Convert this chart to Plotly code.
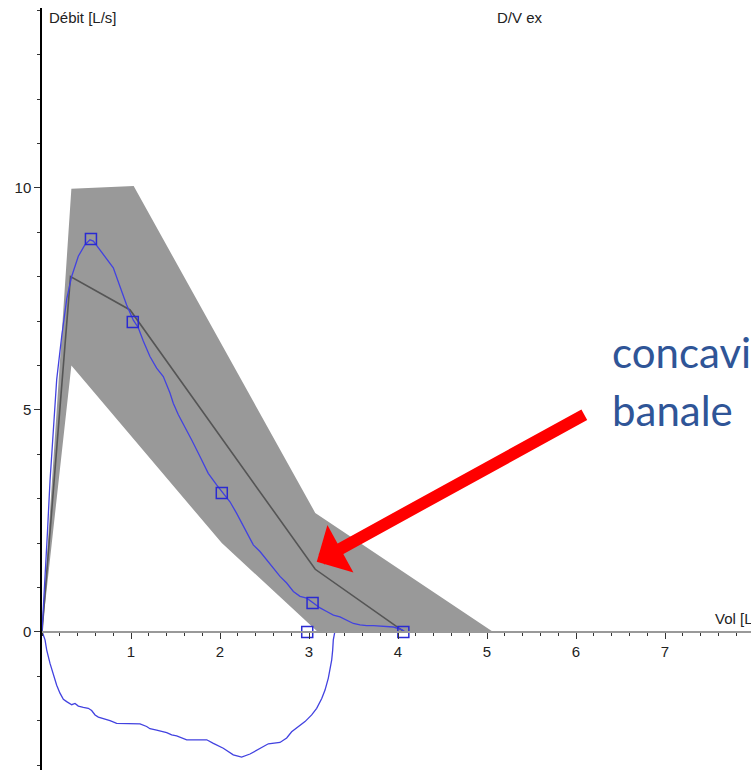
import plotly.graph_objects as go

# ---- data ----
band_upper_x = [0, 0.33, 1.03, 3.07, 5.07]
band_upper_y = [0, 9.98, 10.04, 2.68, 0]
band_lower_x = [0, 0.33, 2.02, 3.10]
band_lower_y = [0, 6.0, 2.0, 0]

mean_x = [0, 0.32, 0.99, 3.07, 4.07]
mean_y = [0, 8.0, 7.25, 1.41, 0]

exp_x = [0, 0.03, 0.06, 0.09, 0.12, 0.165, 0.222, 0.278, 0.334, 0.408, 0.483, 0.539,
         0.577, 0.633, 0.708, 0.801, 0.876, 0.951, 1.026, 1.082, 1.138, 1.213, 1.288,
         1.363, 1.438, 1.475, 1.532, 1.607, 1.682, 1.775, 1.868, 1.962, 2.037, 2.112,
         2.187, 2.262, 2.318, 2.374, 2.449, 2.524, 2.599, 2.674, 2.749, 2.824, 2.899,
         2.974, 3.049, 3.124, 3.199, 3.274, 3.348, 3.423, 3.498, 3.573, 3.648, 3.723,
         3.835, 3.948, 4.042, 4.079]
exp_y = [0, 1.0, 2.2, 3.4, 4.4, 5.68, 6.67, 7.50, 8.01, 8.46, 8.72, 8.83,
         8.80, 8.65, 8.46, 8.20, 7.78, 7.36, 7.02, 6.85, 6.55, 6.20, 5.94,
         5.75, 5.38, 5.15, 4.89, 4.62, 4.32, 3.95, 3.57, 3.31, 3.12, 2.93,
         2.67, 2.37, 2.15, 1.96, 1.81, 1.62, 1.43, 1.25, 1.10, 0.91, 0.80,
         0.76, 0.65, 0.54, 0.46, 0.38, 0.34, 0.27, 0.19, 0.16, 0.14, 0.14,
         0.12, 0.11, 0.05, 0.0]

insp_x = [0, 0.008, 0.034, 0.053, 0.090, 0.127, 0.165, 0.202, 0.240, 0.277, 0.315,
          0.334, 0.371, 0.408, 0.464, 0.520, 0.558, 0.596, 0.633, 0.708, 0.764, 0.839,
          0.951, 1.026, 1.101, 1.176, 1.213, 1.288, 1.401, 1.457, 1.513, 1.626, 1.851,
          1.925, 2.037, 2.149, 2.243, 2.337, 2.449, 2.543, 2.674, 2.749, 2.805, 2.861,
          2.955, 3.030, 3.086, 3.143, 3.180, 3.217, 3.236, 3.255, 3.266, 3.273, 3.29]
insp_y = [0, -0.03, -0.18, -0.41, -0.71, -0.97, -1.20, -1.38, -1.52, -1.57, -1.62,
          -1.64, -1.61, -1.67, -1.70, -1.72, -1.77, -1.87, -1.92, -1.96, -2.00, -2.06,
          -2.07, -2.08, -2.07, -2.13, -2.18, -2.21, -2.27, -2.32, -2.34, -2.43, -2.43,
          -2.51, -2.62, -2.77, -2.82, -2.75, -2.62, -2.52, -2.49, -2.39, -2.25, -2.17,
          -2.02, -1.87, -1.72, -1.50, -1.31, -1.04, -0.86, -0.63, -0.41, -0.18, 0]

marker_x = [0.55, 1.02, 2.02, 3.04, 4.06, 2.98]
marker_y = [8.85, 6.98, 3.13, 0.65, 0.0, 0.0]

x_tickvals = [1, 2, 3, 4, 5, 6, 7]
y_tickvals = [0, 5, 10]

X_RANGE = [0, 7.966]
Y_RANGE = [-3.11, 14.05]

fig = go.Figure()

fig.add_trace(go.Scatter(
    x=band_upper_x + band_lower_x[::-1],
    y=band_upper_y + band_lower_y[::-1],
    fill="toself", fillcolor="#999999", mode="lines",
    line=dict(width=0, color="#999999"), hoverinfo="skip", showlegend=False))

fig.add_trace(go.Scatter(x=mean_x, y=mean_y, mode="lines",
                         line=dict(color="#555555", width=1.6), showlegend=False))

fig.add_trace(go.Scatter(x=exp_x, y=exp_y, mode="lines",
                         line=dict(color="#4242e0", width=1.3), showlegend=False))
fig.add_trace(go.Scatter(x=insp_x, y=insp_y, mode="lines",
                         line=dict(color="#4242e0", width=1.3), showlegend=False))

fig.add_trace(go.Scatter(x=marker_x, y=marker_y, mode="markers",
                         marker=dict(symbol="square-open", size=11, color="#2a2ad2",
                                     line=dict(width=1.5, color="#2a2ad2")),
                         showlegend=False))

axis_font = dict(family="Liberation Sans, Arial, sans-serif", size=15, color="#222222")

fig.update_layout(
    width=751, height=770,
    margin=dict(l=42, r=0, t=8, b=0),
    paper_bgcolor="white", plot_bgcolor="white",
    showlegend=False,
    xaxis=dict(range=X_RANGE, anchor="free",
               position=(0 - Y_RANGE[0]) / (Y_RANGE[1] - Y_RANGE[0]),
               showgrid=False, zeroline=False,
               showline=True, linecolor="#999999", linewidth=2,
               tickmode="array", tickvals=x_tickvals,
               ticks="outside", ticklen=6, tickcolor="#333333", tickwidth=1,
               minor=dict(tickmode="linear", tick0=0, dtick=0.2, ticks="outside",
                          ticklen=3, tickcolor="#333333", tickwidth=1),
               tickfont=axis_font, fixedrange=True),
    yaxis=dict(range=Y_RANGE, showgrid=False, zeroline=False,
               showline=True, linecolor="#000000", linewidth=1.5,
               tickmode="array", tickvals=y_tickvals,
               ticks="outside", ticklen=6, tickcolor="#333333", tickwidth=1,
               minor=dict(tickmode="linear", tick0=0, dtick=1, ticks="outside",
                          ticklen=3, tickcolor="#333333", tickwidth=1),
               tickfont=axis_font, fixedrange=True),
)

# axis titles / header texts
fig.add_annotation(text="Débit [L/s]", xref="x", yref="paper", x=0.06, y=0.988,
                   xanchor="left", yanchor="middle", showarrow=False, font=axis_font)
fig.add_annotation(text="D/V ex", xref="x", yref="paper", x=5.09, y=0.988,
                   xanchor="left", yanchor="middle", showarrow=False, font=axis_font)
fig.add_annotation(text="Vol [L]", xref="x", yref="y", x=7.54, y=0.3,
                   xanchor="left", yanchor="middle", showarrow=False, font=axis_font)

# red arrow
fig.add_annotation(x=3.087, y=1.58, ax=6.11, ay=4.91, xref="x", yref="y",
                   axref="x", ayref="y", text="", showarrow=True,
                   arrowhead=1, arrowsize=0.75, arrowwidth=12, arrowcolor="#ff0000")

# callout text
blue_font = dict(family="Lato, Open Sans, sans-serif", size=42, color="#2f5597")
fig.add_annotation(text="concavité", xref="x", yref="y", x=6.38, y=6.3,
                   xanchor="left", yanchor="middle", showarrow=False, font=blue_font)
fig.add_annotation(text="banale", xref="x", yref="y", x=6.38, y=5.0,
                   xanchor="left", yanchor="middle", showarrow=False, font=blue_font)

fig.write_html("out.html")
